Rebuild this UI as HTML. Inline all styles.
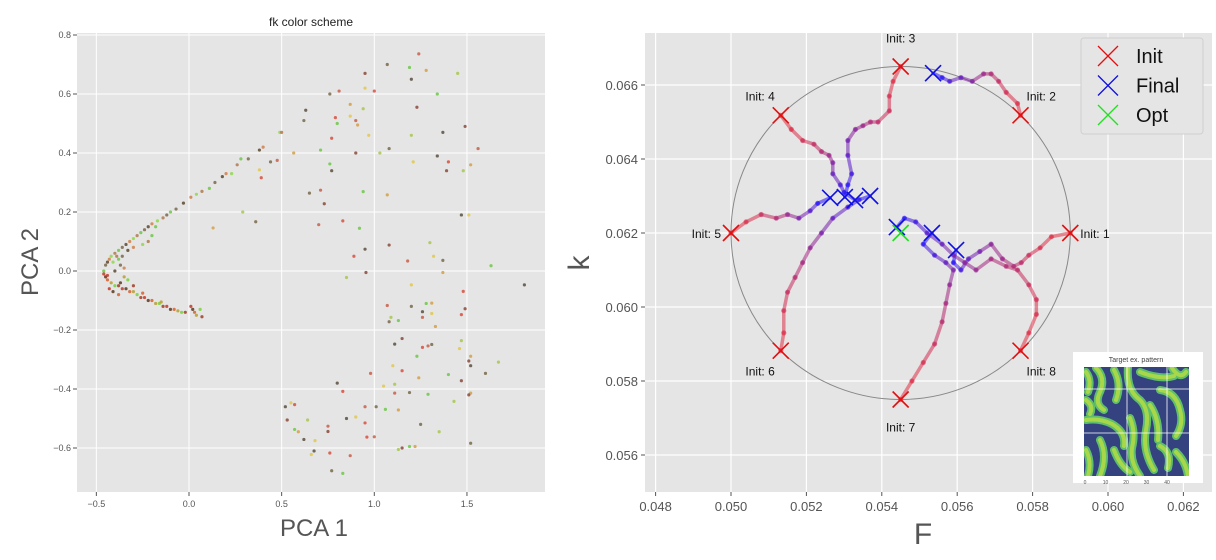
<!DOCTYPE html>
<html><head><meta charset="utf-8"><style>
html,body{margin:0;padding:0;background:#fff;width:1216px;height:560px;overflow:hidden}
svg{display:block;font-family:"Liberation Sans","DejaVu Sans",sans-serif}
</style></head><body>
<svg id="fig" width="1216" height="560" viewBox="0 0 1216 560" xmlns="http://www.w3.org/2000/svg">
<g id="left"></g>
<g id="right"></g>
</svg>
<script>
// ---------- LEFT CHART DATA ----------
const pcaXTicks = [-0.5, 0.0, 0.5, 1.0, 1.5];
const pcaXTickLabels = ["\u22120.5","0.0","0.5","1.0","1.5"];
const pcaYTicks = [0.8,0.6,0.4,0.2,0.0,-0.2,-0.4,-0.6];
const pcaYTickLabels = ["0.8","0.6","0.4","0.2","0.0","\u22120.2","\u22120.4","\u22120.6"];
const upperArmX = [-0.46,-0.45,-0.44,-0.43,-0.42,-0.40,-0.38,-0.36,-0.34,-0.32,-0.30,-0.28,-0.26,-0.24,-0.22,-0.20,-0.17,-0.14,-0.10,-0.07,-0.03,0.01,0.04,0.07,0.11,0.14,0.18,0.20,0.23,0.26,0.28,0.32,0.38,0.40,0.49,0.50,-0.38,-0.36,-0.33,-0.30,-0.25,-0.22,-0.20,-0.37,-0.40,-0.35,-0.41,-0.39,-0.18,-0.12];
const upperArmY = [0.0,0.02,0.03,0.04,0.05,0.06,0.07,0.08,0.09,0.10,0.11,0.12,0.13,0.14,0.15,0.16,0.17,0.18,0.20,0.21,0.23,0.25,0.26,0.27,0.28,0.30,0.32,0.33,0.33,0.36,0.38,0.38,0.41,0.42,0.47,0.47,0.04,0.05,0.07,0.08,0.09,0.10,0.12,0.02,0.0,0.01,0.03,0.05,0.15,0.19];
const lowerArmX = [-0.46,-0.45,-0.44,-0.42,-0.40,-0.38,-0.36,-0.34,-0.32,-0.30,-0.28,-0.26,-0.24,-0.22,-0.20,-0.18,-0.16,-0.14,-0.12,-0.10,-0.08,-0.06,-0.04,-0.02,0.01,0.02,0.03,0.04,0.06,0.07,-0.43,-0.41,-0.38,-0.35,-0.33,-0.30,-0.44,-0.37,-0.25,-0.15];
const lowerArmY = [-0.01,-0.02,-0.03,-0.04,-0.05,-0.05,-0.06,-0.06,-0.07,-0.07,-0.08,-0.09,-0.09,-0.10,-0.10,-0.11,-0.11,-0.12,-0.12,-0.13,-0.13,-0.135,-0.14,-0.14,-0.12,-0.13,-0.14,-0.15,-0.13,-0.155,-0.06,-0.07,-0.08,-0.02,-0.03,-0.05,-0.015,-0.04,-0.075,-0.105];
const spreadX = [1.24,1.07,1.19,1.28,0.95,1.45,1.20,0.95,1.0,0.81,0.76,1.34,0.87,1.23,0.94,0.63,0.87,0.79,0.90,0.62,0.80,0.91,1.49,1.20,1.37,0.97,0.77,1.56,1.08,0.71,0.565,0.90,1.03,1.34,1.21,1.40,0.476,0.44,0.76,1.52,1.39,1.48,0.77,0.38,0.39,0.71,0.65,0.94,1.07,0.73,0.29,1.47,1.51,0.83,0.70,0.36,0.92,0.13,1.08,1.30,0.95,1.32,0.89,1.18,1.37,1.63,1.37,0.955,0.85,1.81,1.20,1.48,1.07,1.20,1.28,1.31,1.49,1.09,1.26,1.31,1.47,1.26,1.08,1.13,1.33,1.15,1.47,1.11,1.46,1.26,1.29,1.31,1.23,1.52,1.51,1.67,1.52,1.10,1.15,0.98,1.60,1.40,1.24,1.47,1.11,0.80,1.05,0.83,1.11,1.19,1.29,1.52,1.51,1.43,0.52,0.55,0.57,0.95,1.01,1.06,1.13,0.53,0.64,0.85,0.90,0.95,0.75,1.25,0.57,0.59,0.75,1.35,0.62,0.68,0.96,1.00,1.52,1.19,1.22,1.15,1.13,0.675,0.66,0.76,0.87,0.77,0.83];
const spreadY = [0.736,0.70,0.69,0.68,0.67,0.67,0.65,0.62,0.61,0.61,0.60,0.60,0.565,0.555,0.55,0.545,0.525,0.52,0.51,0.51,0.50,0.495,0.49,0.46,0.47,0.46,0.45,0.415,0.415,0.41,0.40,0.40,0.40,0.39,0.37,0.37,0.375,0.37,0.363,0.36,0.34,0.34,0.34,0.343,0.316,0.274,0.264,0.269,0.258,0.228,0.20,0.19,0.19,0.17,0.157,0.167,0.145,0.146,0.088,0.096,0.074,0.05,0.05,0.034,0.036,0.018,-0.005,-0.005,-0.022,-0.047,-0.047,-0.069,-0.117,-0.12,-0.11,-0.109,-0.128,-0.157,-0.138,-0.144,-0.148,-0.157,-0.172,-0.168,-0.188,-0.229,-0.236,-0.248,-0.263,-0.259,-0.254,-0.249,-0.289,-0.289,-0.305,-0.309,-0.321,-0.321,-0.338,-0.347,-0.347,-0.351,-0.362,-0.372,-0.384,-0.38,-0.39,-0.408,-0.414,-0.412,-0.418,-0.414,-0.42,-0.442,-0.46,-0.447,-0.453,-0.46,-0.46,-0.469,-0.471,-0.505,-0.505,-0.50,-0.495,-0.515,-0.526,-0.52,-0.537,-0.545,-0.544,-0.545,-0.571,-0.575,-0.563,-0.562,-0.584,-0.595,-0.595,-0.60,-0.605,-0.61,-0.622,-0.617,-0.626,-0.677,-0.686];

// ---------- RIGHT CHART DATA ----------
const fTicks = [0.048,0.050,0.052,0.054,0.056,0.058,0.060,0.062];
const fTickLabels = ["0.048","0.050","0.052","0.054","0.056","0.058","0.060","0.062"];
const kTicks = [0.066,0.064,0.062,0.060,0.058,0.056];
const kTickLabels = ["0.066","0.064","0.062","0.060","0.058","0.056"];
const circleCenter = [0.0545, 0.062];
const circleRadius = 0.0045;
const initLabels = ["Init: 1","Init: 2","Init: 3","Init: 4","Init: 5","Init: 6","Init: 7","Init: 8"];
const initF = [0.0590,0.05768,0.0545,0.05132,0.0500,0.05132,0.0545,0.05768];
const initK = [0.0620,0.06518,0.0665,0.06518,0.0620,0.05882,0.0575,0.05882];
const finalF = [0.05597,0.05536,0.05302,0.05329,0.05263,0.05369,0.05533,0.0544];
const finalK = [0.06154,0.06632,0.06297,0.06289,0.06295,0.06300,0.06200,0.06216];
const optF = [0.0545];
const optK = [0.0620];
const traj1F = [0.0590,0.0585,0.0582,0.0579,0.0577,0.0575,0.0572,0.0569,0.0566,0.0563,0.0561,0.0559,0.05597];
const traj1K = [0.0620,0.0619,0.0616,0.0614,0.0612,0.0611,0.0613,0.0617,0.0615,0.0613,0.0610,0.0612,0.06154];
const traj2F = [0.05768,0.0576,0.0573,0.0571,0.0569,0.0567,0.0564,0.0561,0.0558,0.0556,0.05536];
const traj2K = [0.06518,0.0655,0.0658,0.0661,0.0663,0.0663,0.0661,0.0662,0.0661,0.0662,0.06632];
const traj3F = [0.0545,0.0543,0.0542,0.0542,0.0539,0.0537,0.0535,0.0533,0.0531,0.0531,0.0532,0.0531,0.05302];
const traj3K = [0.0665,0.0661,0.0657,0.0653,0.0650,0.0650,0.0649,0.0648,0.0645,0.0641,0.0636,0.0633,0.06297];
const traj4F = [0.05132,0.0516,0.0519,0.0522,0.0524,0.0526,0.0527,0.0527,0.0529,0.0530,0.05329];
const traj4K = [0.06518,0.0648,0.0645,0.0644,0.0642,0.0641,0.0639,0.0636,0.0633,0.0631,0.06289];
const traj5F = [0.0500,0.0504,0.0508,0.0512,0.0515,0.0518,0.0521,0.0523,0.05263];
const traj5K = [0.0620,0.0623,0.0625,0.0624,0.0625,0.0624,0.0626,0.0628,0.06295];
const traj6F = [0.05132,0.0514,0.0514,0.0515,0.0517,0.0519,0.0521,0.0524,0.0527,0.0531,0.0534,0.05369];
const traj6K = [0.05882,0.0593,0.0599,0.0604,0.0608,0.0612,0.0616,0.0620,0.0624,0.0627,0.0629,0.0630];
const traj7F = [0.0545,0.0548,0.0551,0.0554,0.0556,0.0557,0.0558,0.0559,0.0557,0.0554,0.0551,0.05533];
const traj7K = [0.0575,0.0580,0.0585,0.0590,0.0596,0.0601,0.0606,0.0610,0.0612,0.0614,0.0617,0.0620];
const traj8F = [0.05768,0.0579,0.0581,0.0581,0.0579,0.0576,0.0573,0.0569,0.0565,0.0562,0.0559,0.0556,0.0552,0.0549,0.0546,0.0544];
const traj8K = [0.05882,0.0593,0.0598,0.0602,0.0606,0.0610,0.0611,0.0613,0.0610,0.0612,0.0614,0.0617,0.0620,0.0623,0.0624,0.06216];

const NS = "http://www.w3.org/2000/svg";
function mk(tag, attrs, parent){const e=document.createElementNS(NS,tag);for(const k in attrs)e.setAttribute(k,attrs[k]);parent.appendChild(e);return e;}
function txt(s, attrs, parent){const e=mk('text',attrs,parent);e.textContent=s;return e;}

// ---------- LEFT ----------
const L = document.getElementById('left');
const lx = v => 189 + v*185.3;
const ly = v => 271 - v*295;
let e = mk('rect',{x:77,y:33,width:468,height:459,fill:'#e5e5e5'},L);
 
pcaXTicks.forEach((t,i)=>{
  mk('line',{x1:lx(t),x2:lx(t),y1:33,y2:492,stroke:'#fff','stroke-width':1},L);
  mk('line',{x1:lx(t),x2:lx(t),y1:492,y2:496,stroke:'#555'},L);
  const t1 = txt(pcaXTickLabels[i],{x:lx(t),y:507,'font-size':9,fill:'#555','text-anchor':'middle'},L);
   
});
pcaYTicks.forEach((t,i)=>{
  mk('line',{x1:77,x2:545,y1:ly(t),y2:ly(t),stroke:'#fff','stroke-width':1},L);
  mk('line',{x1:73,x2:77,y1:ly(t),y2:ly(t),stroke:'#555'},L);
  const t1 = txt(pcaYTickLabels[i],{x:71,y:ly(t)+3,'font-size':9,fill:'#555','text-anchor':'end'},L);
   
});
const palSpread = ['#c8604a','#7a6a4c','#6fc84a','#d6a048','#8a4a3c','#a8c850','#5c5040','#e0c850','#d85040'];
const palUpper = ['#6fc84a','#7a6a4c','#5a4a30','#d0804a','#8fd94a','#b07a50'];
const palLower = ['#c83a28','#5a3a20','#d86030','#b8a030','#7ad040','#a04028'];
function dots(xs,ys,pal,name){
  xs.forEach((v,i)=>{
    const c = mk('circle',{cx:lx(v),cy:ly(ys[i]),r:1.6,fill:pal[i%pal.length],'fill-opacity':0.85},L);
    
    
  });
}
dots(spreadX,spreadY,palSpread,'scatter-point');
dots(upperArmX,upperArmY,palUpper,'scatter-point');
dots(lowerArmX,lowerArmY,palLower,'scatter-point');
e = txt('fk color scheme',{x:311,y:26,'font-size':12,fill:'#222','text-anchor':'middle'},L);
 
e = txt('PCA 1',{x:314,y:536,'font-size':24,fill:'#555','text-anchor':'middle'},L);
 
e = txt('PCA 2',{x:0,y:0,'font-size':24,fill:'#555','text-anchor':'middle',transform:'translate(38,262) rotate(-90)'},L);
 

// ---------- RIGHT ----------
const R = document.getElementById('right');
const rx = f => 731 + (f-0.050)*37700;
const ry = k => 233 - (k-0.062)*37000;
e = mk('rect',{x:645,y:33,width:567,height:459,fill:'#e5e5e5'},R);
 
fTicks.forEach((t,i)=>{
  mk('line',{x1:rx(t),x2:rx(t),y1:33,y2:492,stroke:'#fff','stroke-width':1.2},R);
  mk('line',{x1:rx(t),x2:rx(t),y1:492,y2:496,stroke:'#555'},R);
  const t1 = txt(fTickLabels[i],{x:rx(t),y:511,'font-size':13,fill:'#555','text-anchor':'middle'},R);
   
});
kTicks.forEach((t,i)=>{
  mk('line',{x1:645,x2:1212,y1:ry(t),y2:ry(t),stroke:'#fff','stroke-width':1.2},R);
  mk('line',{x1:641,x2:645,y1:ry(t),y2:ry(t),stroke:'#555'},R);
  const t1 = txt(kTickLabels[i],{x:638,y:ry(t)+5,'font-size':13,fill:'#555','text-anchor':'end'},R);
   
});
e = mk('ellipse',{cx:rx(circleCenter[0]),cy:ry(circleCenter[1]),rx:circleRadius*37700,ry:circleRadius*37000,fill:'none',stroke:'#888','stroke-width':1},R);
 

const trajs = [[traj1F,traj1K],[traj2F,traj2K],[traj3F,traj3K],[traj4F,traj4K],[traj5F,traj5K],[traj6F,traj6K],[traj7F,traj7K],[traj8F,traj8K]];
function trajColor(p){
  // red -> crimson -> purple -> blue
  const q = Math.pow(p,1.6);
  const r = Math.round(225 - 185*q), g = Math.round(50 - 30*q), b = Math.round(70 + 180*q);
  return `rgb(${r},${g},${b})`;
}
trajs.forEach((tr,ti)=>{
  const g = mk('g',{},R);
  
  
  const n = tr[0].length;
  for(let i=0;i<n-1;i++){
    const p = i/(n-2);
    const col = trajColor(p);
    mk('line',{x1:rx(tr[0][i]),y1:ry(tr[1][i]),x2:rx(tr[0][i+1]),y2:ry(tr[1][i+1]),stroke:col,'stroke-width':3.5,'stroke-opacity':0.55,'stroke-linecap':'round'},g);
    mk('circle',{cx:rx(tr[0][i]),cy:ry(tr[1][i]),r:2.6,fill:col,'fill-opacity':0.6},g);
  }
});
function cross(f,k,col,name,parent,s){
  s = s||8;
  const x=rx(f), y=ry(k);
  const p = mk('path',{d:`M${x-s},${y-s}L${x+s},${y+s}M${x-s},${y+s}L${x+s},${y-s}`,stroke:col,'stroke-width':1.6,fill:'none'},parent);
  
  
}
initF.forEach((f,i)=>cross(f,initK[i],'#e01010','init-marker',R));
finalF.forEach((f,i)=>cross(f,finalK[i],'#1010e0','final-marker',R));
optF.forEach((f,i)=>cross(f,optK[i],'#20e020','opt-marker',R));
const labOff = [[10,5,'start'],[6,-15,'start'],[0,-24,'middle'],[-6,-15,'end'],[-10,5,'end'],[-6,25,'end'],[0,32,'middle'],[6,25,'start']];
initF.forEach((f,i)=>{
  const o = labOff[i];
  const t1 = txt(initLabels[i],{x:rx(f)+o[0],y:ry(initK[i])+o[1],'font-size':12,fill:'#111','text-anchor':o[2]},R);
   
});
// legend
const lg = mk('g',{},R);
 
mk('rect',{x:1081,y:38,width:122,height:96,rx:3,fill:'#e5e5e5',stroke:'#d0d0d0'},lg);
const legLabels = ['Init','Final','Opt'];
const legCols = ['#e01010','#1010e0','#20e020'];
legLabels.forEach((s,i)=>{
  const y = 56 + i*29.5;
  const p = mk('path',{d:`M1098,${y-10}L1118,${y+10}M1098,${y+10}L1118,${y-10}`,stroke:legCols[i],'stroke-width':1.3,fill:'none'},lg);
   
  const t1 = txt(s,{x:1136,y:y+7,'font-size':20,fill:'#111'},lg);
   
});
e = txt('F',{x:923,y:544,'font-size':30,fill:'#555','text-anchor':'middle'},R);
 
e = txt('k',{x:0,y:0,'font-size':30,fill:'#555','text-anchor':'middle',transform:'translate(589,263) rotate(-90)'},R);
 

// inset
const ins = mk('g',{},R);
 
mk('rect',{x:1073,y:352,width:130,height:131,fill:'#fff'},ins);
txt('Target ex. pattern',{x:1136,y:362,'font-size':7,fill:'#444','text-anchor':'middle'},ins);
mk('rect',{x:1084,y:367,width:105,height:109,fill:'#34437f'},ins);
const cp = mk('clipPath',{id:'insclip'},ins);
mk('rect',{x:1084,y:367,width:105,height:109},cp);
const pg = mk('g',{'clip-path':'url(#insclip)',fill:'none',stroke:'#5fbf6a','stroke-width':8,'stroke-linecap':'round'},ins);
const pg2 = mk('g',{'clip-path':'url(#insclip)',fill:'none',stroke:'#a8d84a','stroke-width':4,'stroke-linecap':'round'},ins);
const paths = [
 'M1086,372 Q1092,380 1088,392','M1096,368 Q1106,378 1100,392 Q1094,404 1104,410',
 'M1114,370 Q1122,384 1116,400','M1128,367 Q1126,390 1140,400 Q1150,410 1146,430 Q1142,450 1154,470',
 'M1140,372 Q1160,380 1174,376','M1172,368 Q1180,380 1186,372','M1160,390 Q1176,392 1180,410 Q1184,424 1176,436',
 'M1086,420 Q1100,418 1112,424 Q1126,432 1124,446','M1100,440 Q1108,456 1100,476','M1086,450 Q1092,462 1088,476',
 'M1114,450 Q1120,466 1130,472','M1130,418 Q1136,432 1132,448 Q1130,462 1140,476','M1160,446 Q1172,452 1168,468',
 'M1176,452 Q1186,462 1188,476','M1150,405 Q1160,420 1158,440','M1086,400 Q1094,406 1090,414'];
paths.forEach(d=>{mk('path',{d:d},pg);mk('path',{d:d},pg2);});
mk('line',{x1:1084,x2:1189,y1:389,y2:389,stroke:'#fff','stroke-width':0.8},ins);
mk('line',{x1:1084,x2:1189,y1:433,y2:433,stroke:'#fff','stroke-width':0.8},ins);
mk('line',{x1:1127,x2:1127,y1:367,y2:476,stroke:'#fff','stroke-width':0.8},ins);
mk('line',{x1:1167,x2:1167,y1:367,y2:476,stroke:'#fff','stroke-width':0.8},ins);
['0','10','20','30','40'].forEach((s,i)=>txt(s,{x:1085+i*20.5,y:484,'font-size':5,fill:'#555','text-anchor':'middle'},ins));
</script>
</body></html>
